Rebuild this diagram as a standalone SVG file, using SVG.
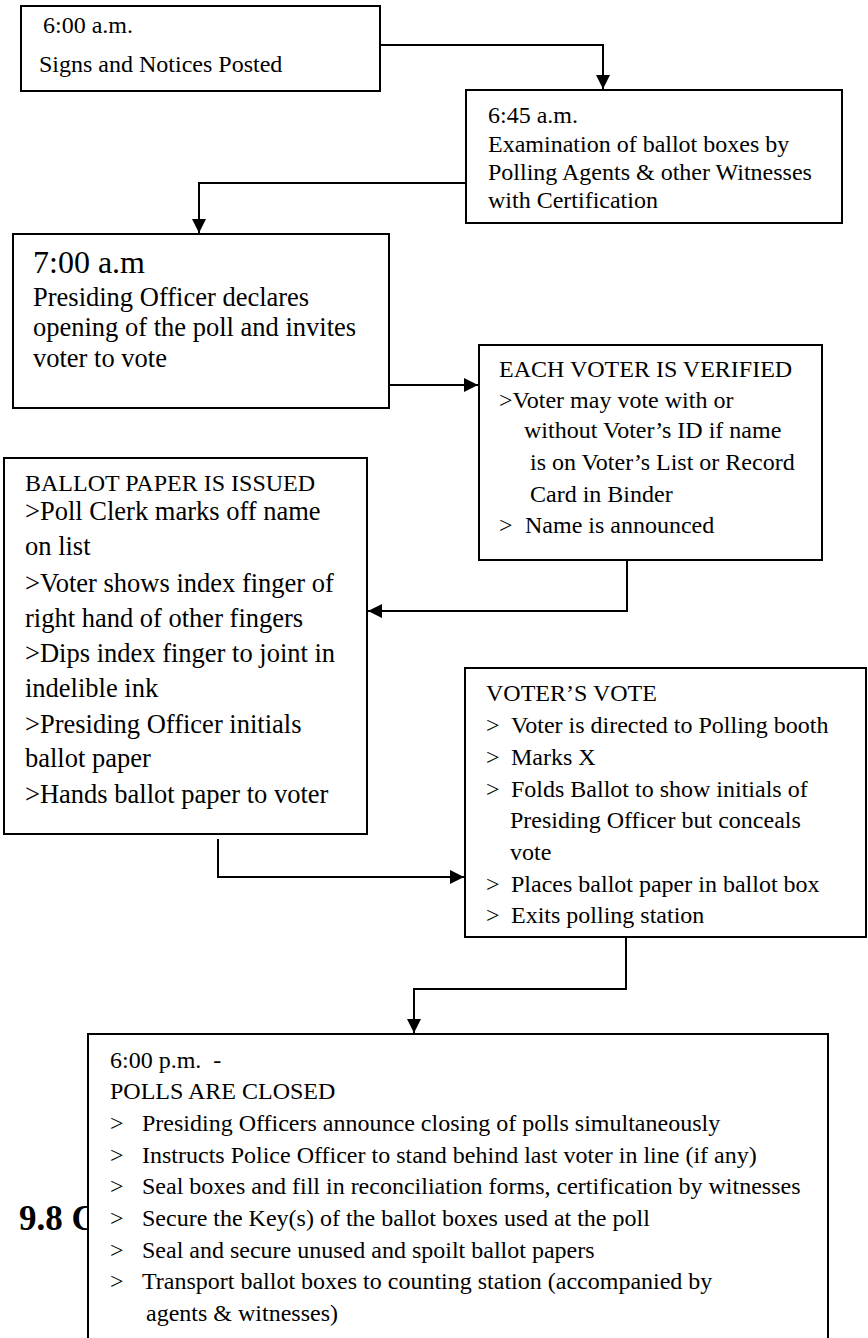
<svg xmlns="http://www.w3.org/2000/svg" width="868" height="1338" viewBox="0 0 868 1338">
<style>
  .box { fill: #fff; stroke: #000; stroke-width: 2; }
  .t { font-family: "Liberation Serif", "Times New Roman", serif; font-size: 24px; fill: #000; white-space: pre; }
  .big { font-size: 26.5px; }
  .time { font-size: 32px; }
  .head { font-family: "Liberation Serif", "Times New Roman", serif; font-size: 35px; font-weight: bold; fill: #000; }
  .conn { fill: none; stroke: #000; stroke-width: 2; }
</style>
<defs>
  <marker id="arr" viewBox="0 0 10 10" refX="10" refY="5" markerWidth="15" markerHeight="14" markerUnits="userSpaceOnUse" orient="auto">
    <path d="M0,0 L10,5 L0,10 Z" fill="#000"/>
  </marker>
</defs>
<rect width="868" height="1338" fill="#fff"/>
<text class="head" x="19" y="1230">9.8 C</text>
<g id="connectors">
  <path class="conn" d="M380,45 H603 V89" marker-end="url(#arr)"/>
  <path class="conn" d="M466,183 H199 V233" marker-end="url(#arr)"/>
  <path class="conn" d="M389,385 H478" marker-end="url(#arr)"/>
  <path class="conn" d="M627,560 V611 H368" marker-end="url(#arr)"/>
  <path class="conn" d="M218,839 V877 H464" marker-end="url(#arr)"/>
  <path class="conn" d="M626,937 V989 H414 V1033" marker-end="url(#arr)"/>
</g>
<g id="n1">
  <rect class="box" x="21" y="6" width="359" height="85"/>
  <text class="t" x="43" y="33">6:00 a.m.</text>
  <text class="t" x="39" y="72">Signs and Notices Posted</text>
</g>
<g id="n2">
  <rect class="box" x="466" y="90" width="376" height="133"/>
  <text class="t" x="488" y="123">6:45 a.m.</text>
  <text class="t" x="488" y="152">Examination of ballot boxes by</text>
  <text class="t" x="488" y="180">Polling Agents &amp; other Witnesses</text>
  <text class="t" x="488" y="208">with Certification</text>
</g>
<g id="n3">
  <rect class="box" x="13" y="234" width="376" height="174"/>
  <text class="t time" x="33" y="273">7:00 a.m</text>
  <text class="t big" x="33" y="306">Presiding Officer declares</text>
  <text class="t big" x="33" y="336">opening of the poll and invites</text>
  <text class="t big" x="33" y="367">voter to vote</text>
</g>
<g id="n4">
  <rect class="box" x="479" y="345" width="343" height="215"/>
  <text class="t" x="499" y="377">EACH VOTER IS VERIFIED</text>
  <text class="t" x="499" y="408">&gt;Voter may vote with or</text>
  <text class="t" x="524" y="438">without Voter’s ID if name</text>
  <text class="t" x="530" y="470">is on Voter’s List or Record</text>
  <text class="t" x="530" y="502">Card in Binder</text>
  <text class="t" x="499" y="533">&gt;</text>
  <text class="t" x="525" y="533">Name is announced</text>
</g>
<g id="n5">
  <rect class="box" x="4" y="458" width="363" height="376"/>
  <text class="t" x="25" y="491">BALLOT PAPER IS ISSUED</text>
  <text class="t big" x="25" y="520">&gt;Poll Clerk marks off name</text>
  <text class="t big" x="25" y="555">on list</text>
  <text class="t big" x="25" y="592">&gt;Voter shows index finger of</text>
  <text class="t big" x="25" y="627">right hand of other fingers</text>
  <text class="t big" x="25" y="662">&gt;Dips index finger to joint in</text>
  <text class="t big" x="25" y="697">indelible ink</text>
  <text class="t big" x="25" y="733">&gt;Presiding Officer initials</text>
  <text class="t big" x="25" y="767">ballot paper</text>
  <text class="t big" x="25" y="803">&gt;Hands ballot paper to voter</text>
</g>
<g id="n6">
  <rect class="box" x="465" y="668" width="401" height="269"/>
  <text class="t" x="486" y="701">VOTER’S VOTE</text>
  <text class="t" x="486" y="733">&gt;</text>
  <text class="t" x="511" y="733">Voter is directed to Polling booth</text>
  <text class="t" x="486" y="765">&gt;</text>
  <text class="t" x="511" y="765">Marks X</text>
  <text class="t" x="486" y="797">&gt;</text>
  <text class="t" x="511" y="797">Folds Ballot to show initials of</text>
  <text class="t" x="510" y="828">Presiding Officer but conceals</text>
  <text class="t" x="510" y="860">vote</text>
  <text class="t" x="486" y="892">&gt;</text>
  <text class="t" x="511" y="892">Places ballot paper in ballot box</text>
  <text class="t" x="486" y="923">&gt;</text>
  <text class="t" x="511" y="923">Exits polling station</text>
</g>
<g id="n7">
  <rect class="box" x="88" y="1034" width="740" height="320"/>
  <text class="t" x="110" y="1068">6:00 p.m.  -</text>
  <text class="t" x="110" y="1099">POLLS ARE CLOSED</text>
  <text class="t" x="110" y="1131">&gt;</text>
  <text class="t" x="142" y="1131">Presiding Officers announce closing of polls simultaneously</text>
  <text class="t" x="110" y="1163">&gt;</text>
  <text class="t" x="142" y="1163">Instructs Police Officer to stand behind last voter in line (if any)</text>
  <text class="t" x="110" y="1194">&gt;</text>
  <text class="t" x="142" y="1194">Seal boxes and fill in reconciliation forms, certification by witnesses</text>
  <text class="t" x="110" y="1226">&gt;</text>
  <text class="t" x="142" y="1226">Secure the Key(s) of the ballot boxes used at the poll</text>
  <text class="t" x="110" y="1258">&gt;</text>
  <text class="t" x="142" y="1258">Seal and secure unused and spoilt ballot papers</text>
  <text class="t" x="110" y="1289">&gt;</text>
  <text class="t" x="142" y="1289">Transport ballot boxes to counting station (accompanied by</text>
  <text class="t" x="146" y="1321">agents &amp; witnesses)</text>
</g>
</svg>
